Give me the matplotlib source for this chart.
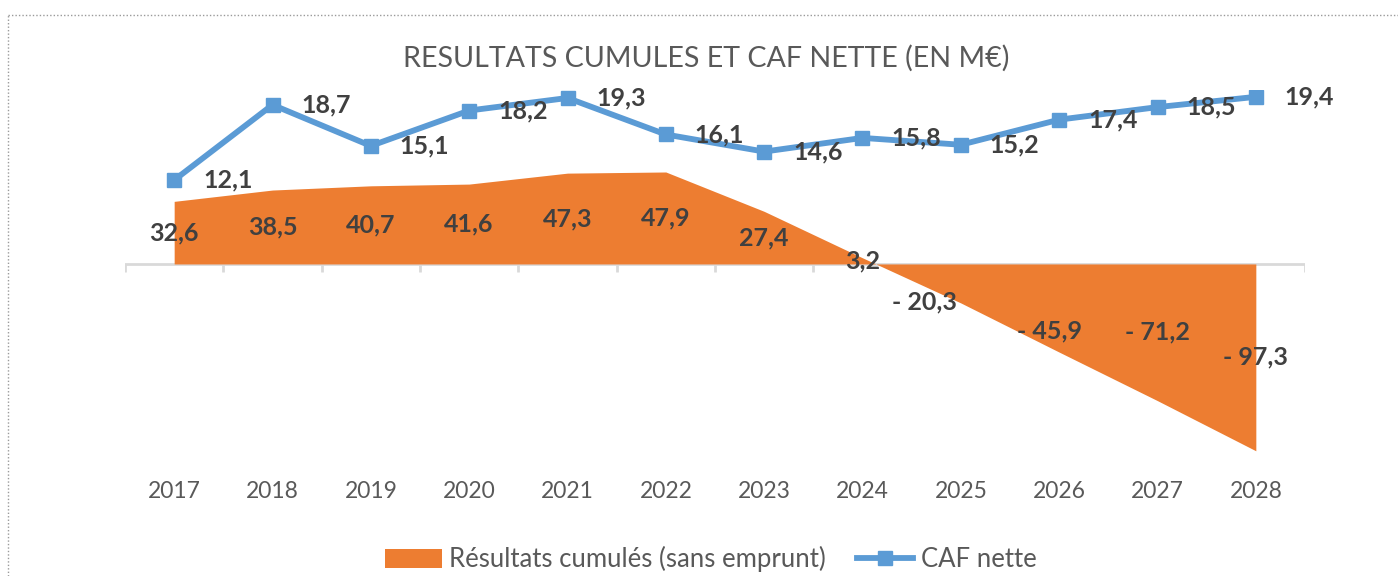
import matplotlib.pyplot as plt
from matplotlib.lines import Line2D
from matplotlib.patches import Patch

years = ["2017", "2018", "2019", "2020", "2021", "2022",
         "2023", "2024", "2025", "2026", "2027", "2028"]
resultats_cumules = [32.6, 38.5, 40.7, 41.6, 47.3, 47.9, 27.4, 3.2, -20.3, -45.9, -71.2, -97.3]
caf_nette = [12.1, 18.7, 15.1, 18.2, 19.3, 16.1, 14.6, 15.8, 15.2, 17.4, 18.5, 19.4]

ORANGE = "#ED7D31"
BLUE = "#5B9BD5"
LABEL = "#404040"
GREY_TXT = "#595959"
AXIS = "#D9D9D9"

# a couple of labels were dragged by hand in the original (pixels, y up)
label_nudge = {"2025": (-36, -18), "2026": (-10, -23)}

plt.rcParams["font.family"] = ["Lato", "DejaVu Sans"]


def fr(v):
    s = f"{abs(v):.1f}".replace(".", ",")
    return f"- {s}" if v < 0 else s


W, H = 1398, 576
fig = plt.figure(figsize=(W / 100, H / 100), dpi=100)
ax = fig.add_axes([125 / W, 1 - 455 / H, 1180 / W, 365 / H])
ax2 = ax.twinx()

x = list(range(len(years)))

# area: cumulated results
ax.fill_between(x, 0, resultats_cumules, color=ORANGE, lw=0, zorder=2)
ax.set_xlim(-0.5, len(years) - 0.5)
ax.set_ylim(-99.5, 90.6)

# category axis at zero with ticks between categories
ax.axhline(0, color=AXIS, lw=2, zorder=1)
ax.vlines([i - 0.5 for i in range(len(years) + 1)], -4.4, 0, color=AXIS, lw=2, zorder=1)

for i, v in enumerate(resultats_cumules):
    dx, dy = label_nudge.get(years[i], (0, 0))
    ax.annotate(fr(v), (i, v / 2), xytext=(dx, dy), textcoords="offset pixels",
                ha="center", va="center", fontsize=18, fontweight="bold",
                color=LABEL, zorder=5)

for i, yr in enumerate(years):
    ax.text(i, -36 / 365, yr, transform=ax.get_xaxis_transform(),
            ha="center", va="center", fontsize=16.5, color=GREY_TXT)

# line: CAF nette on secondary axis
ax2.plot(x, caf_nette, color=BLUE, lw=4.2, marker="s", markersize=10.5,
         solid_joinstyle="round", zorder=3)
ax2.set_ylim(-12, 20)
for i, v in enumerate(caf_nette):
    ax2.annotate(fr(v), (i, v), xytext=(29, 0), textcoords="offset pixels",
                 ha="left", va="center", fontsize=18, fontweight="bold", color=LABEL)

for a in (ax, ax2):
    for s in a.spines.values():
        s.set_visible(False)
    a.set_xticks([])
    a.set_yticks([])

fig.text(706 / W, 1 - 58 / H, "RESULTATS CUMULES ET CAF NETTE (EN M€)",
         ha="center", va="center", fontsize=20.6, color=GREY_TXT)

handles = [
    Patch(facecolor=ORANGE, edgecolor="none"),
    Line2D([0], [0], color=BLUE, lw=4.2, marker="s", markersize=10.5),
]
fig.legend(handles, ["Résultats cumulés (sans emprunt)", "CAF nette"],
           loc="center", bbox_to_anchor=(711 / W, 1 - 559 / H), ncol=2,
           frameon=False, fontsize=18.5, labelcolor=GREY_TXT,
           handlelength=2.2, handleheight=0.75, handletextpad=0.3, columnspacing=1.2)

# dotted frame of the chart area (top and left edges visible)
fig.add_artist(Line2D([8 / W, 1], [1 - 15 / H] * 2, transform=fig.transFigure,
                      ls=(0, (1, 1.5)), color="#9A9A9A", lw=1))
fig.add_artist(Line2D([8 / W] * 2, [0, 1 - 15 / H], transform=fig.transFigure,
                      ls=(0, (1, 1.5)), color="#9A9A9A", lw=1))

fig.savefig("out.png", dpi=100)
